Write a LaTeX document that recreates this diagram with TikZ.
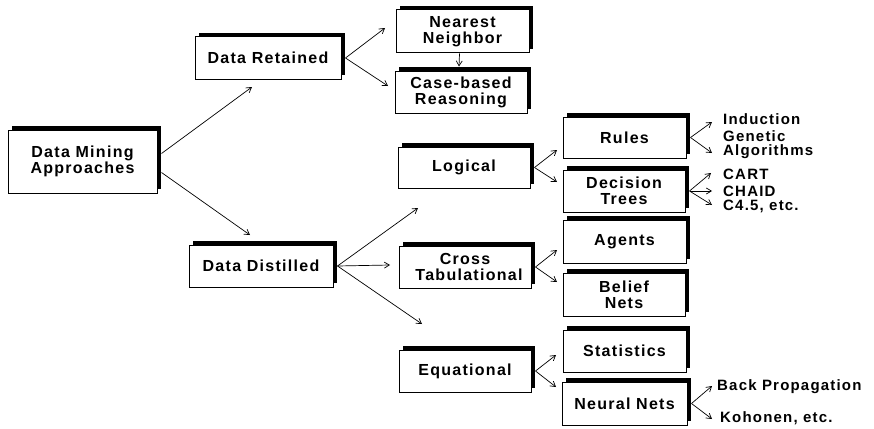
\documentclass[tikz,border=0pt]{standalone}
\usepackage{fontspec}
\setmainfont{Liberation Sans}[LetterSpace=8]
\usetikzlibrary{arrows.meta,shadows}

\tikzset{
  box/.style={draw, fill=white, line width=1pt, inner sep=0pt, align=center,
    font=\bfseries\fontsize{16}{16}\selectfont,
    drop shadow={shadow xshift=4pt, shadow yshift=4pt, fill=black, opacity=1}},
  arr/.style={-{Straight Barb[length=5pt,width=6pt]}, line width=0.7pt},
  lbl/.style={anchor=west, inner sep=0pt, align=left, font=\bfseries\fontsize{15}{14}\selectfont}
}

\begin{document}
\begin{tikzpicture}[x=1pt, y=-1pt]
    \useasboundingbox (0,0) rectangle (874,428);

    % Boxes
    \node[box, minimum width=149pt, minimum height=63pt] (dma) at (82.5,161.5) {Data Mining\\Approaches};
    \node[box, minimum width=146pt, minimum height=42pt] (ret) at (268,58) {Data Retained};
    \node[box, minimum width=144pt, minimum height=42pt] (dd) at (261,266) {Data Distilled};
    \node[box, minimum width=133pt, minimum height=43pt] (nn) at (462.5,31.5) {Nearest\\Neighbor};
    \node[box, minimum width=132pt, minimum height=42pt] (cbr) at (461,92) {Case-based\\Reasoning};
    \node[box, minimum width=132pt, minimum height=41pt] (logi) at (464,167.5) {Logical};
    \node[box, minimum width=132pt, minimum height=42pt] (cross) at (465,267) {Cross\\\hspace*{8pt}Tabulational};
    \node[box, minimum width=132pt, minimum height=42pt] (equ) at (465,371) {Equational};
    \node[box, minimum width=123pt, minimum height=41pt] (rules) at (624.5,137.5) {Rules};
    \node[box, minimum width=122pt, minimum height=42pt] (dt) at (624,191) {Decision\\Trees};
    \node[box, minimum width=123pt, minimum height=43pt] (agents) at (624.5,241.5) {Agents};
    \node[box, minimum width=122pt, minimum height=43pt] (belief) at (624,294.5) {Belief\\Nets};
    \node[box, minimum width=123pt, minimum height=42pt] (stats) at (624.5,351) {Statistics};
    \node[box, minimum width=125pt, minimum height=43pt] (neural) at (624.5,403.5) {Neural Nets};

    % Leaf labels
    \node[lbl] (ind) at (723,119) {Induction};
    \node[lbl] (gen) at (723,145) {Genetic\\Algorithms};
    \node[lbl] (cart) at (723,174) {CART};
    \node[lbl] (chaid) at (723,191) {CHAID};
    \node[lbl] (c45) at (723,206) {C4.5, etc.};
    \node[lbl] (back) at (717,387) {Back Propagation};
    \node[lbl] (koh) at (720,418) {Kohonen, etc.};

    % Arrow ends
    \coordinate (dma-a) at (252,87);
    \coordinate (dma-b) at (250,235);
    \coordinate (ret-a) at (385,28);
    \coordinate (ret-b) at (388,86);
    \coordinate (logi-a) at (557,150);
    \coordinate (logi-b) at (557,182);
    \coordinate (rules-a) at (712,122);
    \coordinate (rules-b) at (712,153);
    \coordinate (dt-a) at (711,173);
    \coordinate (dt-b) at (712,191);
    \coordinate (dt-c) at (712,205);
    \coordinate (dd-a) at (418,208);
    \coordinate (dd-b) at (390,265);
    \coordinate (dd-c) at (422,324);
    \coordinate (cross-a) at (557,250);
    \coordinate (cross-b) at (557,282);
    \coordinate (equ-a) at (556,355);
    \coordinate (equ-b) at (556,387);
    \coordinate (neural-a) at (712,386);
    \coordinate (neural-b) at (712,419);

    % Connectors
    \draw[arr] ([shift={(4,-8)}]dma.east) -- (dma-a);
    \draw[arr] ([shift={(4,11)}]dma.east) -- (dma-b);
    \draw[arr] ([xshift=-3pt]nn.south) -- ([xshift=-2pt,yshift=4pt]cbr.north);
    \foreach \n/\e in {ret/ret-a, ret/ret-b, logi/logi-a, logi/logi-b,
        rules/rules-a, rules/rules-b, dt/dt-a, dt/dt-b, dt/dt-c,
        dd/dd-a, dd/dd-b, dd/dd-c, cross/cross-a, cross/cross-b,
        equ/equ-a, equ/equ-b, neural/neural-a, neural/neural-b} {
        \draw[arr] ([xshift=4pt]\n.east) -- (\e);
    }
\end{tikzpicture}
\end{document}
